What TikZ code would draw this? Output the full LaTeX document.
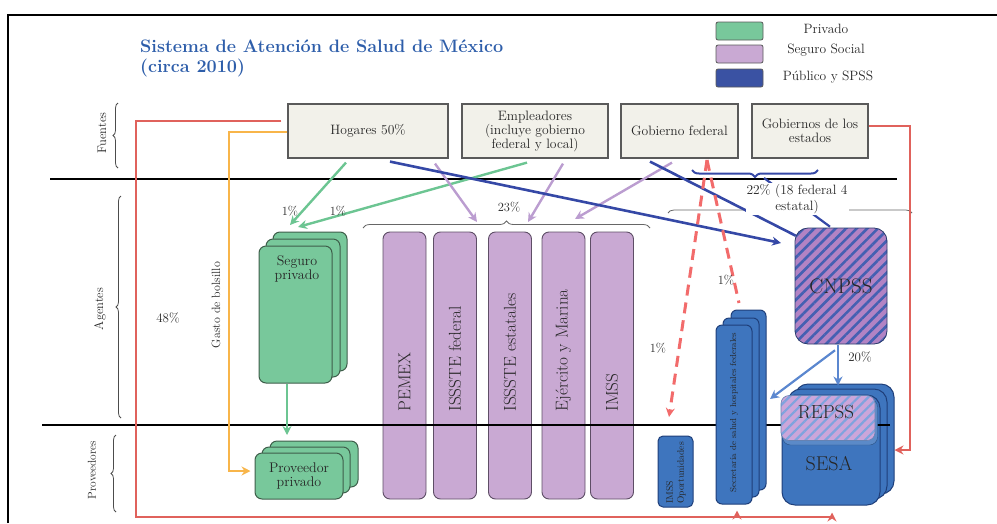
\documentclass[tikz,border=0pt]{standalone}
\usepackage{fontspec}
\usetikzlibrary{arrows.meta,decorations.pathreplacing,patterns.meta,calc}
\definecolor{pgreen}{HTML}{78C89B}
\definecolor{pgreenb}{HTML}{3E5E4A}
\definecolor{ppurple}{HTML}{C9A9D3}
\definecolor{ppurpleb}{HTML}{5E4E66}
\definecolor{pblue}{HTML}{3E75BE}
\definecolor{pblueb}{HTML}{1F3F7A}
\definecolor{legblue}{HTML}{3A52A3}
\definecolor{srcfill}{HTML}{F2F1EA}
\definecolor{srcdraw}{HTML}{5A5A5A}
\definecolor{tblue}{HTML}{2E5EAA}
\definecolor{lred}{HTML}{E0625C}
\definecolor{dred}{HTML}{F26B6B}
\definecolor{lyel}{HTML}{F8B54A}
\definecolor{agreen}{HTML}{6CC592}
\definecolor{apurple}{HTML}{BB9DD0}
\definecolor{ablue}{HTML}{3548A6}
\definecolor{lblue}{HTML}{5B87CF}
\definecolor{hatchpurple}{HTML}{B283C4}
\definecolor{hatchblue}{HTML}{4460B2}
\definecolor{repssp}{HTML}{CBA6DA}
\definecolor{repssb}{HTML}{7FA3DE}
\definecolor{txt}{HTML}{262626}
\begin{document}
\begin{tikzpicture}[x=1pt,y=-1pt,
  every node/.style={text=txt},
  srcbox/.style={draw=srcdraw,fill=srcfill,line width=1.2pt,minimum height=54pt,align=center,font=\fontsize{13.6}{14}\selectfont,inner sep=1pt},
  legbox/.style={draw=srcdraw,line width=0.8pt,rounded corners=2pt,minimum width=47pt,minimum height=18pt},
  leglab/.style={font=\fontsize{13.5}{15}\selectfont},
  gbox/.style={draw=pgreenb,fill=pgreen,line width=1pt,rounded corners=7pt},
  pcol/.style={draw=ppurpleb,fill=ppurple,line width=0.9pt,rounded corners=7pt,minimum width=43pt,minimum height=267pt},
  pcollab/.style={rotate=90,anchor=west,font=\fontsize{17.2}{19}\selectfont},
  bbox/.style={draw=pblueb,fill=pblue,line width=1pt,rounded corners=6pt},
  pct/.style={font=\fontsize{12.5}{14}\selectfont},
  sidelab/.style={rotate=90,font=\fontsize{11.5}{13}\selectfont},
  bigl/.style={font=\fontsize{20}{22}\selectfont},
  arr/.style={-{Stealth[length=9pt,width=9pt]}},
  garr/.style={arr,draw=agreen,line width=2.4pt},
  parr/.style={arr,draw=apurple,line width=2.4pt},
  barr/.style={draw=ablue,line width=2.6pt},
  gbrace/.style={decorate,decoration={brace,amplitude=7pt},draw=black!60,line width=0.8pt},
  sbrace/.style={decorate,decoration={brace,amplitude=5pt},draw=black!70,line width=0.8pt},
]
\useasboundingbox (0,0) rectangle (997,523);
% frame
\draw[line width=1.5pt] (8,523) -- (8,15) -- (997,15);

% title
\node[anchor=north west,align=left,font=\bfseries\fontsize{18}{20}\selectfont,text=tblue,inner sep=0pt] (title) at (140,40)
  {Sistema de Atención de Salud de México\\(circa 2010)};

% legend
\node[legbox,fill=pgreen] (lg1) at (739.5,31) {};
\node[legbox,fill=ppurple] (lg2) at (739.5,54) {};
\node[legbox,fill=legblue] (lg3) at (739.5,78) {};
\node[leglab] (lt1) at (826,29) {Privado};
\node[leglab] (lt2) at (826,50) {Seguro Social};
\node[leglab] (lt3) at (828,77) {Público y SPSS};

% sources
\node[srcbox,minimum width=160pt] (hog) at (368,131) {Hogares 50\%};
\node[srcbox,minimum width=146pt] (emp) at (535,131) {Empleadores\\(incluye gobierno\\federal y local)};
\node[srcbox,minimum width=117pt] (gfed) at (679.5,131) {Gobierno federal};
\node[srcbox,minimum width=116pt] (gest) at (810,131) {Gobiernos de los\\estados};

% side labels & braces
\node[sidelab,font=\fontsize{12.5}{14}\selectfont] (lfu) at (102,133) {Fuentes};
\node[sidelab,font=\fontsize{12.5}{14}\selectfont] (lag) at (100,309) {Agentes};
\node[sidelab] (lpr) at (92,470) {Proveedores};
\coordinate (bf1) at (118,168); \coordinate (bf2) at (118,103);
\coordinate (ba1) at (121,418); \coordinate (ba2) at (121,196);
\coordinate (bp1) at (116,512); \coordinate (bp2) at (116,435);
\draw[sbrace] (bf1) -- (bf2);
\draw[sbrace] (ba1) -- (ba2);
\draw[sbrace] (bp1) -- (bp2);

% top separator
\coordinate (t1) at (50,179); \coordinate (t2) at (897,179);
\draw[line width=2.6pt] (t1) -- (t2);

% seguro privado stack
\node[gbox,minimum width=74pt,minimum height=139pt] (sp3) at (310,301.5) {};
\node[gbox,minimum width=74pt,minimum height=138pt] (sp2) at (303,308) {};
\node[gbox,minimum width=73pt,minimum height=137pt] (sp) at (295.5,314.5) {};
\node[font=\fontsize{14}{14}\selectfont,align=center] (splab) at (297,269) {Seguro\\privado};

% proveedor privado stack
\node[gbox,minimum width=88pt,minimum height=46pt] (pp3) at (314,464) {};
\node[gbox,minimum width=88pt,minimum height=46pt] (pp2) at (306,470) {};
\node[gbox,minimum width=88pt,minimum height=46pt,font=\fontsize{14}{14}\selectfont,align=center] (pp) at (299,476) {Proveedor\\privado};

% purple columns
\node[pcol] (pemex) at (404.5,365.5) {};
\node[pcol] (isf) at (455,365.5) {};
\node[pcol] (ise) at (510,365.5) {};
\node[pcol] (ejm) at (563.5,365.5) {};
\node[pcol] (imss) at (612,365.5) {};
\node[pcollab] (pemexl) at (404.5,415) {PEMEX};
\node[pcollab] (isfl) at (455,415) {ISSSTE federal};
\node[pcollab] (isel) at (510,415) {ISSSTE estatales};
\node[pcollab] (ejml) at (563.5,415) {Ejército y Marina};
\node[pcollab] (imssl) at (612,415) {IMSS};

% braces over agents
\coordinate (pb1) at (363,228); \coordinate (pb2) at (650,228);
\draw[gbrace] (pb1) -- (pb2);
\node[pct] (p23) at (509,207) {23\%};
\coordinate (rb1) at (668,213); \coordinate (rb2) at (912,213);
\draw[gbrace,decoration={amplitude=6pt}] (rb1) -- (rb2);

% CNPSS
\node[draw=hatchblue!60!black,line width=0.8pt,rounded corners=13pt,minimum width=92pt,minimum height=116pt,
  preaction={fill=hatchpurple},pattern={Lines[angle=45,distance=7.5pt,line width=2.6pt]},pattern color=hatchblue,
  font=\fontsize{21}{22}\selectfont] (cnpss) at (841,286) {CNPSS};

% SESA stack (back layers)
\node[bbox,rounded corners=13pt,minimum width=99pt,minimum height=110pt] (sesa3) at (844.5,439) {};
\node[bbox,rounded corners=13pt,minimum width=99pt,minimum height=110pt] (sesa2) at (837.5,444) {};
\node[bbox,rounded corners=13pt,minimum width=98pt,minimum height=110pt] (sesa) at (831,450) {};
\node[bigl] (sesal) at (829,464) {SESA};

% bottom separator
\coordinate (s1) at (42,425); \coordinate (s2) at (890,425);
\draw[line width=2pt] (s1) -- (s2);

% REPSS
\node[draw=pblue!70!black,fill=pblue!85!white,rounded corners=8pt,minimum width=95pt,minimum height=46pt] (repss2) at (830,422) {};
\node[draw=repssb!80!black,line width=0.6pt,rounded corners=8pt,minimum width=94pt,minimum height=45pt,
  preaction={fill=repssp},pattern={Lines[angle=45,distance=7pt,line width=2.2pt]},pattern color=repssb] (repss) at (828,418) {};
\node[font=\fontsize{19}{20}\selectfont] (repssl) at (826,412) {REPSS};

% Secretaria stack
\node[bbox,minimum width=35pt,minimum height=180pt] (sec3) at (748.5,400) {};
\node[bbox,minimum width=36pt,minimum height=179pt] (sec2) at (741,407.5) {};
\node[bbox,minimum width=36pt,minimum height=179pt] (sec) at (734,414.5) {};
\node[rotate=90,anchor=west,font=\fontsize{8.7}{10}\selectfont] (secl) at (734,496) {Secretaría de salud y hospitales federales};

% IMSS Oportunidades
\node[bbox,rounded corners=5pt,minimum width=35pt,minimum height=71pt] (imsso) at (675.5,471.5) {};
\node[rotate=90,anchor=west,align=left,font=\fontsize{9.5}{11}\selectfont,inner sep=1pt] (imssol) at (676,505) {IMSS\\Oportunidades};

% ---------- connectors ----------
% green
\coordinate (gtA) at (290,225);
\coordinate (gtB) at (298,227);
\draw[garr] ([xshift=-22pt,yshift=-4pt]hog.south) -- (gtA);
\draw[garr] ([xshift=-8pt,yshift=-4pt]emp.south) -- (gtB);
\node[pct] (g1) at (290,211) {1\%};
\node[pct] (g2) at (338,211) {1\%};
\coordinate (ppt) at (287,435);
\draw[garr,line width=2pt] ([xshift=-8.5pt]sp.south) -- (ppt);

% purple
\coordinate (ptA) at (477,222);
\coordinate (ptB) at (528,222);
\coordinate (ptC) at (575,219);
\draw[parr] ([xshift=67pt,yshift=-5pt]hog.south) -- (ptA);
\draw[parr] ([xshift=28pt,yshift=-5pt]emp.south) -- (ptB);
\draw[parr] ([xshift=-7.5pt,yshift=-4pt]gfed.south) -- (ptC);

% blue
\coordinate (btA) at (781,243);
\draw[barr,arr] ([xshift=22pt,yshift=-3pt]hog.south) -- (btA);
\draw[barr] ([xshift=-29.5pt,yshift=-3pt]gfed.south) -- ([xshift=2pt,yshift=-9pt]cnpss.north west);
\coordinate (bb1) at (818,170); \coordinate (bb2) at (692,170);
\draw[decorate,decoration={brace,amplitude=7pt},draw=ablue,line width=2pt] (bb1) -- (bb2);
\coordinate (bbt) at (764,178);
\draw[barr,line width=2.2pt] (bbt) -- ([xshift=-11pt]cnpss.north);
\node[pct,font=\fontsize{13.5}{16}\selectfont,align=center,fill=white,inner sep=1pt] (p22) at (797,199) {22\% (18 federal 4\\estatal)};

% light blue from CNPSS
\draw[arr,draw=lblue,line width=2.2pt] ([xshift=-3pt]cnpss.south) -- ([xshift=-3pt,yshift=-2pt]sesa3.north -| cnpss.south);
\coordinate (lbt) at (770,399);
\draw[arr,draw=lblue,line width=2.2pt] ([xshift=-6pt,yshift=-5pt]cnpss.south) -- (lbt);
\node[pct,font=\fontsize{13}{14}\selectfont] (p20) at (860,357) {20\%};

% red dashed
\coordinate (rdt) at (707,160);
\coordinate (rdA) at (669,417);
\coordinate (rdB) at (739,303);
\draw[arr,draw=dred,line width=3pt,dash pattern=on 11pt off 7pt] (rdt) -- (rdA);
\draw[draw=dred,line width=3pt,dash pattern=on 11pt off 7pt] (rdt) -- (rdB);
\node[pct] (r1a) at (658,348) {1\%};
\node[pct] (r1b) at (726,280) {1\%};

% red solid
\coordinate (rc1) at (136,121);
\coordinate (rc2) at (136,517);
\coordinate (rc3) at (832,517);
\coordinate (rc4) at (737,517);
\draw[arr,draw=lred,line width=2.4pt] ([xshift=-6pt,yshift=10pt]hog.west) -- (rc1) -- (rc2) -- (rc3) -- ([xshift=1pt,yshift=-7pt]sesa.south);
\draw[arr,draw=lred,line width=2.4pt] (rc4) -- ([xshift=3pt,yshift=-6pt]sec.south);
\coordinate (rr1) at (910,126);
\coordinate (rr2) at (910,450);
\draw[arr,draw=lred,line width=2.4pt] ([yshift=5pt]gest.east) -- (rr1) -- (rr2) -- (sesa3.east |- rr2);

% yellow
\coordinate (y1) at (229,132);
\coordinate (y2) at (229,471);
\draw[arr,draw=lyel,line width=2pt] ([yshift=-1pt]hog.west) -- (y1) -- (y2) -- ([xshift=-4pt]pp.west |- y2);
\node[sidelab,font=\fontsize{12}{13}\selectfont] (gb) at (216,305) {Gasto de bolsillo};
\node[pct,font=\fontsize{13}{14}\selectfont] (p48) at (168,318) {48\%};
\end{tikzpicture}
\end{document}
